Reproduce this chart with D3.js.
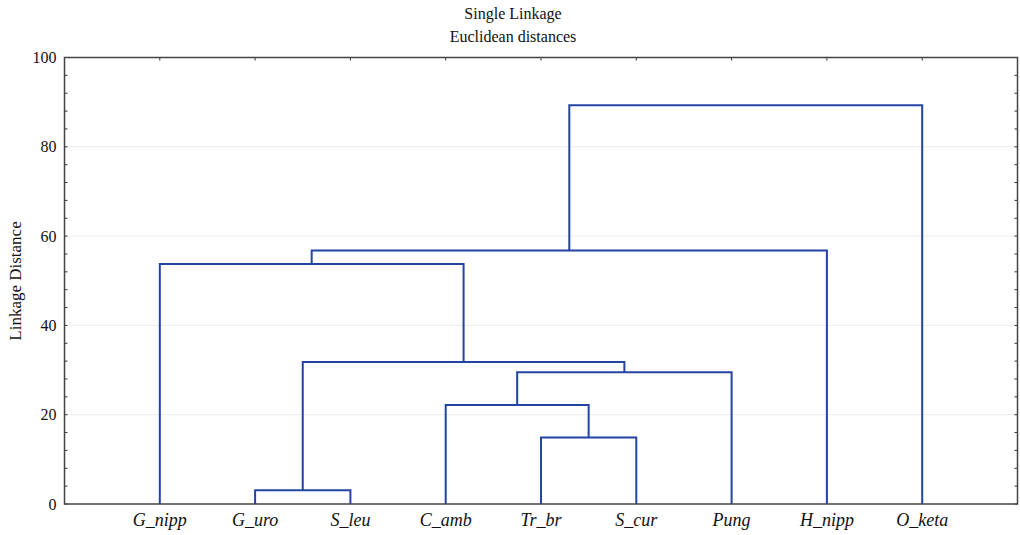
<!DOCTYPE html>
<html>
<head>
<meta charset="utf-8">
<script src="https://cdn.jsdelivr.net/npm/d3@7/dist/d3.min.js"></script>
<style>
  body { margin: 0; background: #fff; }
  svg { display: block; font-family: "Liberation Serif", "Times New Roman", serif; }
</style>
</head>
<body>
<svg id="chart" width="1020" height="535"></svg>
<script>
// Leaves in dendrogram order
const leaves = ["G_nipp", "G_uro", "S_leu", "C_amb", "Tr_br", "S_cur", "Pung", "H_nipp", "O_keta"];

// Agglomeration steps (single linkage): cluster name, left member, right member, linkage distance
const clusterNames = ["c1", "c2", "c3", "c4", "c5", "c6", "c7", "c8"];
const mergeLeft    = ["G_uro", "Tr_br", "C_amb", "c3", "c1", "G_nipp", "c6", "c7"];
const mergeRight   = ["S_leu", "S_cur", "c2", "Pung", "c4", "c5", "H_nipp", "O_keta"];
const mergeHeight  = [3.1, 14.9, 22.2, 29.5, 31.8, 53.75, 56.8, 89.3];

const yTicks = [0, 20, 40, 60, 80, 100];

const m = { left: 64.5, right: 1017.5, top: 57.5, bottom: 504 };

const svg = d3.select("#chart");

const x = d3.scaleLinear().domain([0, leaves.length + 1]).range([m.left, m.right]);
const y = d3.scaleLinear().domain([0, 100]).range([m.bottom, m.top]);

// Node positions: leaves at integer slots, clusters at midpoint of their children
const pos = {};
leaves.forEach((name, i) => { pos[name] = { x: i + 1, h: 0 }; });
clusterNames.forEach((name, i) => {
  const a = pos[mergeLeft[i]], b = pos[mergeRight[i]];
  pos[name] = { x: (a.x + b.x) / 2, h: mergeHeight[i] };
});

// Gridlines
svg.append("g")
  .selectAll("line")
  .data(yTicks.filter(d => d > 0 && d < 100))
  .join("line")
  .attr("x1", m.left).attr("x2", m.right)
  .attr("y1", d => y(d)).attr("y2", d => y(d))
  .attr("stroke", "#ececec").attr("stroke-width", 1);

// Left axis with inward ticks
const minor = d3.range(0, 101, 4);
const leftAxis = svg.append("g").attr("transform", `translate(${m.left},0)`);
leftAxis.selectAll("line.minor")
  .data(minor)
  .join("line").attr("class", "minor")
  .attr("x1", 0).attr("x2", 3)
  .attr("y1", d => y(d)).attr("y2", d => y(d))
  .attr("stroke", "#333").attr("stroke-width", 1);
leftAxis.call(d3.axisLeft(y).tickValues(yTicks).tickSize(0).tickPadding(8))
  .call(g => g.select(".domain").remove())
  .call(g => g.selectAll("text")
    .attr("font-family", "Liberation Serif, serif")
    .attr("font-size", 16).attr("fill", "#111"));

// Right axis inward ticks
svg.append("g").selectAll("line")
  .data(minor)
  .join("line")
  .attr("x1", m.right).attr("x2", m.right - 3)
  .attr("y1", d => y(d)).attr("y2", d => y(d))
  .attr("stroke", "#333").attr("stroke-width", 1);

// Top axis inward ticks at leaf slots
svg.append("g").selectAll("line")
  .data(leaves)
  .join("line")
  .attr("x1", (d, i) => x(i + 1)).attr("x2", (d, i) => x(i + 1))
  .attr("y1", m.top).attr("y2", m.top + 3)
  .attr("stroke", "#333").attr("stroke-width", 1);

// Leaf labels
svg.append("g").selectAll("text")
  .data(leaves)
  .join("text")
  .attr("x", (d, i) => x(i + 1))
  .attr("y", 522)
  .attr("text-anchor", "middle")
  .attr("dominant-baseline", "middle")
  .attr("font-style", "italic")
  .attr("font-size", 18)
  .attr("fill", "#111")
  .text(d => d);

// Dendrogram links
svg.append("g")
  .selectAll("path")
  .data(clusterNames.map((name, i) => ({ a: pos[mergeLeft[i]], b: pos[mergeRight[i]], h: mergeHeight[i] })))
  .join("path")
  .attr("d", d => `M${x(d.a.x)},${y(d.a.h)}V${y(d.h)}H${x(d.b.x)}V${y(d.b.h)}`)
  .attr("fill", "none")
  .attr("stroke", "#2344a3")
  .attr("stroke-width", 2);

// Frame
svg.append("rect")
  .attr("x", m.left).attr("y", m.top)
  .attr("width", m.right - m.left).attr("height", m.bottom - m.top)
  .attr("fill", "none").attr("stroke", "#444").attr("stroke-width", 1.5);

// Titles
svg.append("text").attr("x", 513).attr("y", 19).attr("text-anchor", "middle")
  .attr("font-size", 16).attr("fill", "#111").text("Single Linkage");
svg.append("text").attr("x", 513).attr("y", 42).attr("text-anchor", "middle")
  .attr("font-size", 16).attr("fill", "#111").text("Euclidean distances");

// Y axis title
svg.append("text")
  .attr("transform", "translate(21,281) rotate(-90)")
  .attr("text-anchor", "middle")
  .attr("font-size", 17).attr("fill", "#111")
  .text("Linkage Distance");
</script>
</body>
</html>
